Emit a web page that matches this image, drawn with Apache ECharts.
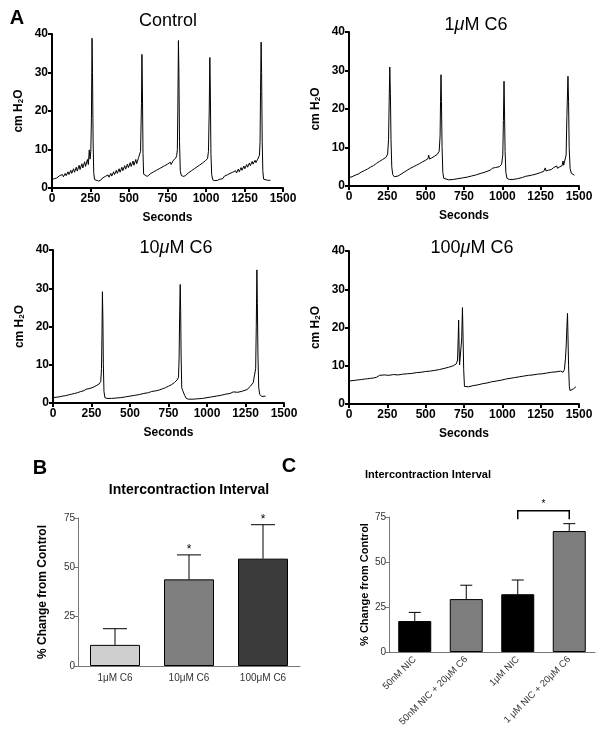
<!DOCTYPE html>
<html>
<head>
<meta charset="utf-8">
<script src="https://cdn.jsdelivr.net/npm/echarts@6/dist/echarts.min.js"></script>
<style>
html,body{margin:0;padding:0;background:#fff;}
#c{width:601px;height:734px;}
</style>
</head>
<body>
<div id="c"></div>
<script>
// ---------- DATA ----------
const secondsTicks = [0, 250, 500, 750, 1000, 1250, 1500];
const pressureTicks = [0, 10, 20, 30, 40];
const pctTicks = [0, 25, 50, 75];

const panelTitles = ['Control', '1{i|μ}M C6', '10{i|μ}M C6', '100{i|μ}M C6'];

const controlTrace = [[0,2.3],[15,2.4],[30,2.6],[42,2.8],[50,3.2],[56,2.7],[68,3.5],[74,2.9],[86,3.8],[92,3.2],[104,4.2],[110,3.5],[122,4.6],[128,3.8],[140,5.0],[146,4.1],[158,5.4],[164,4.4],[176,5.9],[182,4.8],[194,6.3],[200,5.2],[212,6.8],[218,5.6],[230,7.4],[236,6.1],[242,9.9],[247,7.5],[252,9.5],[256,18],[260,38.9],[263,30],[267,12],[271,4],[276,2.2],[288,1.8],[302,1.8],[316,2.0],[328,2.6],[334,2.1],[346,3.0],[352,2.5],[364,3.4],[370,2.8],[382,3.8],[388,3.1],[400,4.2],[406,3.5],[418,4.6],[424,3.8],[436,5.0],[442,4.1],[454,5.4],[460,4.5],[472,5.8],[478,4.9],[490,6.2],[496,5.3],[508,6.6],[514,5.6],[526,7.0],[532,5.9],[544,7.4],[550,6.3],[562,7.9],[568,7.4],[575,9.5],[581,22],[584,34.7],[587,26],[591,9],[595,3.6],[604,3.1],[618,3.0],[630,3.3],[642,3.8],[648,3.3],[660,4.2],[666,3.7],[678,4.6],[684,4.1],[696,5.0],[702,4.5],[714,5.4],[720,4.9],[732,5.8],[738,5.3],[750,6.2],[756,5.7],[768,6.7],[774,6.1],[786,7.1],[792,6.7],[804,7.8],[810,8.5],[814,10],[817,20],[821,38.3],[824,30],[828,12],[833,4.5],[839,3.3],[852,3.0],[866,3.2],[876,3.5],[888,4.0],[894,3.6],[906,4.5],[912,4.0],[924,5.0],[930,4.5],[942,5.5],[948,5.0],[960,6.0],[966,5.5],[978,6.5],[984,6.0],[996,7.1],[1002,6.8],[1010,7.6],[1016,9.5],[1021,20],[1025,33.9],[1028,26],[1032,9],[1037,3.5],[1044,2.1],[1058,1.9],[1075,2.0],[1090,2.3],[1102,2.8],[1108,2.4],[1120,3.1],[1126,2.7],[1138,3.4],[1144,3.0],[1156,3.8],[1162,3.3],[1174,4.1],[1180,3.6],[1192,4.5],[1198,3.9],[1210,4.9],[1216,4.2],[1228,5.3],[1234,4.6],[1246,5.7],[1252,5.0],[1264,6.1],[1270,5.4],[1282,6.5],[1288,5.8],[1300,6.9],[1306,6.2],[1318,7.2],[1324,6.6],[1336,7.5],[1342,7.4],[1347,8.5],[1351,12],[1354,25],[1358,37.9],[1361,30],[1365,12],[1369,4.5],[1374,2.3],[1385,2.0],[1400,2.0],[1418,2.0]];

const c6_1uM_Trace = [[0,2.2],[20,2.4],[40,2.8],[60,3.1],[80,3.6],[100,4.0],[120,4.4],[140,4.9],[160,5.3],[180,5.9],[200,6.4],[220,6.9],[240,7.4],[252,8.3],[258,12],[262,22],[266,30.9],[270,24],[274,12],[279,5],[285,3.0],[295,2.4],[305,2.3],[320,2.6],[340,3.1],[360,3.6],[380,4.1],[400,4.6],[420,5.0],[440,5.4],[460,5.8],[480,6.3],[500,6.7],[515,7.1],[520,8.0],[525,7.0],[540,7.3],[560,7.8],[575,8.2],[588,9.0],[594,13],[597,22],[600,28.9],[603,22],[607,10],[612,3.5],[618,2.0],[630,1.7],[650,1.6],[680,1.7],[710,1.9],[740,2.1],[770,2.3],[800,2.6],[830,2.9],[860,3.3],[880,3.5],[900,3.8],[920,4.1],[935,4.6],[945,4.2],[955,4.8],[965,4.5],[980,5.0],[995,5.6],[1003,8],[1007,17],[1011,27.2],[1014,20],[1018,9],[1023,3.5],[1030,2.0],[1045,1.7],[1070,1.7],[1100,1.9],[1130,2.2],[1150,2.5],[1155,2.9],[1160,2.4],[1190,2.8],[1220,3.1],[1250,3.5],[1270,3.8],[1280,4.7],[1285,3.9],[1300,4.1],[1320,4.3],[1335,4.8],[1340,4.4],[1355,5.2],[1360,4.6],[1375,5.0],[1390,5.3],[1396,6.5],[1400,5.4],[1410,5.6],[1416,8],[1421,18],[1428,28.5],[1432,22],[1436,10],[1442,4.5],[1450,3.3],[1460,3.0],[1470,2.8]];

const c6_10uM_Trace = [[0,1.4],[20,1.5],[40,1.6],[60,1.8],[80,1.9],[100,2.1],[120,2.3],[140,2.5],[160,2.7],[180,3.0],[200,3.2],[215,3.6],[225,3.3],[240,3.8],[260,4.1],[280,4.5],[300,5.0],[310,5.6],[315,9],[318,18],[321,29.1],[324,22],[327,10],[331,3],[337,1.4],[350,1.2],[380,1.2],[410,1.3],[440,1.4],[470,1.6],[500,1.8],[530,2.0],[560,2.2],[590,2.5],[620,2.7],[640,3.0],[650,2.7],[670,3.2],[690,3.4],[710,3.7],[730,4.0],[750,4.4],[770,4.8],[790,5.4],[805,6.0],[815,6.7],[819,12],[822,22],[826,31.0],[829,24],[832,12],[836,4],[842,3.3],[848,3.1],[855,2.0],[865,1.2],[880,1.0],[910,1.0],[940,1.1],[970,1.2],[1000,1.4],[1030,1.6],[1060,1.8],[1090,2.0],[1120,2.3],[1150,2.5],[1170,2.9],[1180,2.5],[1200,2.8],[1230,3.1],[1260,3.5],[1280,4.3],[1300,5.3],[1310,5.8],[1316,9],[1320,20],[1324,34.8],[1327,26],[1331,12],[1336,4],[1342,2.3],[1355,1.7],[1365,2.0],[1380,1.8]];

const c6_100uM_Trace = [[0,6.0],[20,6.1],[40,6.2],[60,6.3],[80,6.4],[100,6.5],[120,6.6],[140,6.7],[160,6.8],[180,7.0],[190,7.4],[200,7.5],[230,7.6],[260,7.5],[290,7.7],[320,7.6],[350,7.8],[380,7.9],[410,8.0],[440,8.2],[470,8.3],[500,8.5],[530,8.6],[560,8.8],[590,9.0],[620,9.3],[650,9.6],[680,10.0],[700,10.5],[708,11.5],[712,17],[715,21.9],[718,15],[721,10.2],[727,10.0],[731,10.5],[735,17],[740,25.2],[744,17],[748,9],[753,4.6],[758,4.3],[780,4.5],[810,4.8],[840,5.0],[870,5.3],[900,5.5],[930,5.8],[960,6.0],[990,6.2],[1020,6.5],[1050,6.7],[1080,6.9],[1110,7.1],[1140,7.3],[1170,7.5],[1200,7.6],[1230,7.8],[1260,7.9],[1290,8.1],[1320,8.3],[1350,8.4],[1380,8.6],[1395,8.3],[1405,9.0],[1412,12],[1417,15.7],[1421,20],[1425,23.7],[1428,18],[1432,10],[1437,4.5],[1442,3.5],[1450,3.6],[1465,4.0],[1480,4.5]];

const bCategories = ['1μM C6', '10μM C6', '100μM C6'];
const bMeans = [10.7, 43.9, 54.4];
const bErrTop = [18.9, 56.3, 71.6];
const bStars = ['', '*', '*'];

const cCategories = ['50nM NIC', '50nM NIC + 20μM C6', '1μM NIC', '1 μM NIC + 20μM C6'];
const cMeans = [17.2, 29.4, 32.1, 67.2];
const cErrTop = [22, 37.1, 40, 71.3];
const cSignif = [[2, 3, 78.5, 73.7, '*']];

// ---------- STYLE ----------
const FF = '"Liberation Sans", Arial, Helvetica, sans-serif';
const bColors = ['#cfcfcf', '#7f7f7f', '#3b3b3b'];
const cColors = ['#000000', '#7d7d7d', '#000000', '#7d7d7d'];
const plain = v => String(v);

const traceGrids = [
  {left: 52, top: 34, width: 231, height: 154},
  {left: 349, top: 32, width: 230, height: 154},
  {left: 53, top: 250, width: 231, height: 153},
  {left: 349, top: 251, width: 230, height: 153}
];
const traces = [controlTrace, c6_1uM_Trace, c6_10uM_Trace, c6_100uM_Trace];

const grids = traceGrids.concat([
  {left: 78, top: 518, width: 222, height: 148},
  {left: 389, top: 517, width: 206, height: 135}
]);

const xAxes = [], yAxes = [], series = [];
traceGrids.forEach((g, i) => {
  xAxes.push({
    type: 'value', gridIndex: i,
    min: secondsTicks[0], max: secondsTicks[secondsTicks.length - 1],
    interval: secondsTicks[1] - secondsTicks[0],
    axisLine: {show: true, onZero: false, lineStyle: {color: '#000', width: 2}},
    axisTick: {show: true, length: 4, lineStyle: {color: '#000', width: 2}},
    axisLabel: {color: '#000', fontWeight: 'bold', fontSize: 12, fontFamily: FF, margin: 5, formatter: plain},
    splitLine: {show: false},
    name: 'Seconds', nameLocation: 'middle', nameGap: 24,
    nameTextStyle: {color: '#000', fontWeight: 'bold', fontSize: 12, fontFamily: FF}
  });
  yAxes.push({
    type: 'value', gridIndex: i,
    min: pressureTicks[0], max: pressureTicks[pressureTicks.length - 1],
    interval: pressureTicks[1] - pressureTicks[0],
    axisLine: {show: true, onZero: false, lineStyle: {color: '#000', width: 2}},
    axisTick: {show: true, length: 4, lineStyle: {color: '#000', width: 2}},
    axisLabel: {color: '#000', fontWeight: 'bold', fontSize: 12, fontFamily: FF, margin: 4, formatter: plain},
    splitLine: {show: false},
    name: '{a|cm H}{s|2}{a|O}', nameLocation: 'middle', nameGap: 27,
    nameTextStyle: {
      color: '#000', fontFamily: FF,
      rich: {
        a: {fontWeight: 'bold', fontSize: 12, fontFamily: FF, color: '#000', verticalAlign: 'bottom', lineHeight: 16},
        s: {fontWeight: 'bold', fontSize: 8, fontFamily: FF, color: '#000', verticalAlign: 'bottom', lineHeight: 12}
      }
    }
  });
  series.push({
    type: 'line', xAxisIndex: i, yAxisIndex: i, data: traces[i],
    showSymbol: false, symbol: 'none',
    lineStyle: {color: '#000', width: 1}
  });
});

// Panel B axes
xAxes.push({
  type: 'category', gridIndex: 4, data: bCategories,
  axisLine: {show: true, lineStyle: {color: '#777', width: 1}},
  axisTick: {show: false},
  axisLabel: {color: '#333', fontSize: 10, fontFamily: FF, margin: 7}
});
yAxes.push({
  type: 'value', gridIndex: 4,
  min: pctTicks[0], max: pctTicks[pctTicks.length - 1], interval: pctTicks[1] - pctTicks[0],
  axisLine: {show: true, lineStyle: {color: '#777', width: 1}},
  axisTick: {show: true, length: 4, lineStyle: {color: '#777'}},
  axisLabel: {color: '#333', fontSize: 10, fontFamily: FF, margin: 3, formatter: plain},
  splitLine: {show: false},
  name: '% Change from Control', nameLocation: 'middle', nameGap: 29,
  nameTextStyle: {color: '#000', fontWeight: 'bold', fontSize: 12, fontFamily: FF}
});
// Panel C axes
xAxes.push({
  type: 'category', gridIndex: 5, data: cCategories,
  axisLine: {show: true, lineStyle: {color: '#777', width: 1}},
  axisTick: {show: false},
  axisLabel: {color: '#333', fontSize: 9.5, fontFamily: FF, rotate: 45, margin: 6, interval: 0}
});
yAxes.push({
  type: 'value', gridIndex: 5,
  min: pctTicks[0], max: pctTicks[pctTicks.length - 1], interval: pctTicks[1] - pctTicks[0],
  axisLine: {show: true, lineStyle: {color: '#777', width: 1}},
  axisTick: {show: true, length: 4, lineStyle: {color: '#777'}},
  axisLabel: {color: '#333', fontSize: 10, fontFamily: FF, margin: 3, formatter: plain},
  splitLine: {show: false},
  name: '% Change from Control', nameLocation: 'middle', nameGap: 19,
  nameTextStyle: {color: '#000', fontWeight: 'bold', fontSize: 11, fontFamily: FF}
});

function errRender(capHalf, stars) {
  return function (params, api) {
    const x = api.value(0), m = api.value(1), e = api.value(2);
    const p0 = api.coord([x, m]), p1 = api.coord([x, e]);
    const children = [
      {type: 'line', shape: {x1: p0[0], y1: p0[1], x2: p1[0], y2: p1[1]}, style: {stroke: '#000', lineWidth: 1}},
      {type: 'line', shape: {x1: p1[0] - capHalf, y1: p1[1], x2: p1[0] + capHalf, y2: p1[1]}, style: {stroke: '#000', lineWidth: 1}}
    ];
    const s = stars ? stars[params.dataIndex] : '';
    if (s) {
      children.push({type: 'text', style: {text: s, x: p1[0], y: p1[1] - 5, align: 'center', verticalAlign: 'middle', textAlign: 'center', textVerticalAlign: 'middle', font: '12px ' + FF, fill: '#000'}});
    }
    return {type: 'group', children: children};
  };
}

series.push({
  type: 'bar', xAxisIndex: 4, yAxisIndex: 4, barWidth: 50,
  data: bMeans.map((v, i) => ({value: v, itemStyle: {color: bColors[i], borderColor: '#000', borderWidth: 1}}))
});
series.push({
  type: 'custom', xAxisIndex: 4, yAxisIndex: 4, clip: false, z: 5,
  renderItem: errRender(12, bStars),
  data: bMeans.map((v, i) => [i, v, bErrTop[i]])
});
series.push({
  type: 'bar', xAxisIndex: 5, yAxisIndex: 5, barWidth: 33,
  data: cMeans.map((v, i) => ({value: v, itemStyle: {color: cColors[i], borderColor: '#000', borderWidth: 1}}))
});
series.push({
  type: 'custom', xAxisIndex: 5, yAxisIndex: 5, clip: false, z: 5,
  renderItem: errRender(6, null),
  data: cMeans.map((v, i) => [i, v, cErrTop[i]])
});
series.push({
  type: 'custom', xAxisIndex: 5, yAxisIndex: 5, clip: false, z: 5,
  renderItem: function (params, api) {
    const a = api.value(0), b = api.value(1), top = api.value(2), low = api.value(3);
    const pa = api.coord([a, top]), pb = api.coord([b, top]);
    const la = api.coord([a, low]), lb = api.coord([b, low]);
    return {type: 'group', children: [
      {type: 'polyline', shape: {points: [la, pa, pb, lb]}, style: {stroke: '#000', lineWidth: 1.5, fill: null}},
      {type: 'text', style: {text: cSignif[params.dataIndex][4], x: (pa[0] + pb[0]) / 2, y: pa[1] - 6, align: 'center', verticalAlign: 'middle', textAlign: 'center', textVerticalAlign: 'middle', font: '10px ' + FF, fill: '#000'}}
    ]};
  },
  data: cSignif.map(d => [d[0], d[1], d[2], d[3]])
});

function txt(x, y, text, font, rich) {
  const st = {text: text, x: 0, y: 0, font: font, fill: '#000', align: 'center', verticalAlign: 'middle', textAlign: 'center', textVerticalAlign: 'middle'};
  if (rich) st.rich = rich;
  return {type: 'text', x: x, y: y, style: st, z: 100};
}
const muRich = {i: {fontStyle: 'italic', fontSize: 18, fontFamily: FF, fill: '#000', color: '#000'}};
const titlePos = [[168, 21], [476, 25], [176, 248], [472, 248]];
const graphics = panelTitles.map((t, i) => txt(titlePos[i][0], titlePos[i][1], t, '18px ' + FF, muRich));
graphics.push(txt(17, 18, 'A', 'bold 20px ' + FF));
graphics.push(txt(40, 468, 'B', 'bold 20px ' + FF));
graphics.push(txt(289, 466, 'C', 'bold 20px ' + FF));
graphics.push(txt(189, 490, 'Intercontraction Interval', 'bold 14px ' + FF));
graphics.push(txt(428, 475, 'Intercontraction Interval', 'bold 11px ' + FF));

const chart = echarts.init(document.getElementById('c'), null, {renderer: 'canvas'});
chart.setOption({
  animation: false,
  backgroundColor: '#fff',
  grid: grids,
  xAxis: xAxes,
  yAxis: yAxes,
  series: series,
  graphic: graphics
});
</script>
</body>
</html>
